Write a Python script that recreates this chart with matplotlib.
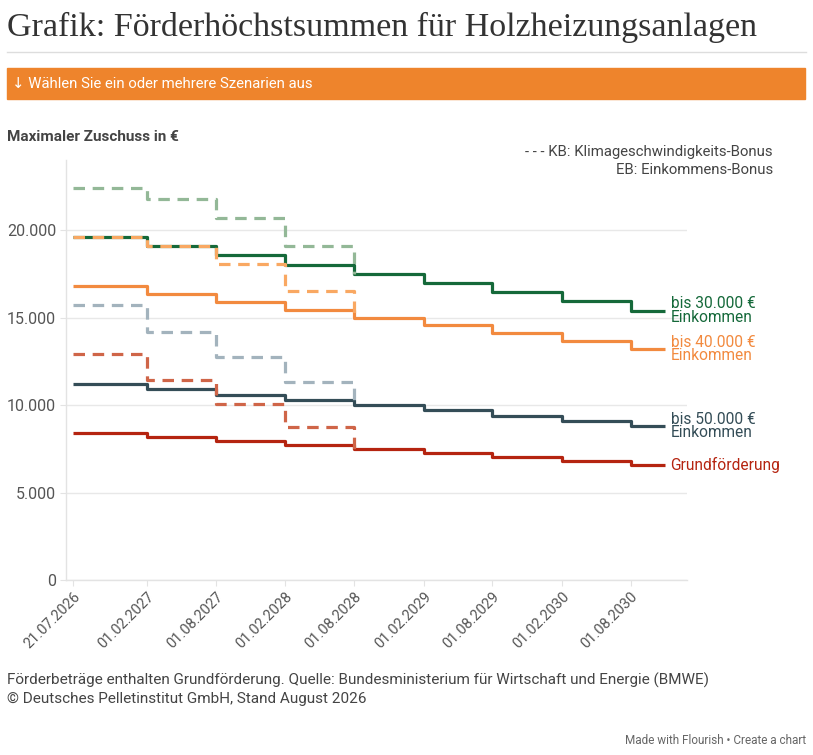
import matplotlib
matplotlib.use("Agg")
import matplotlib.pyplot as plt
import matplotlib.patheffects as pe
from matplotlib.patches import Rectangle
from matplotlib.lines import Line2D
import pandas as pd

# step dates (Förderstufen) and values
dates = ["2026-07-21", "2027-02-01", "2027-08-01", "2028-02-01", "2028-08-01",
         "2029-02-01", "2029-08-01", "2030-02-01", "2030-08-01"]
end_date = "2030-10-31"
tick_labels = ["21.07.2026", "01.02.2027", "01.08.2027", "01.02.2028", "01.08.2028",
               "01.02.2029", "01.08.2029", "01.02.2030", "01.08.2030"]

grund = [8400, 8175, 7950, 7725, 7500, 7275, 7050, 6825, 6600]
eb_50k = [11200, 10900, 10600, 10300, 10000, 9700, 9400, 9100, 8800]
eb_40k = [16800, 16350, 15900, 15450, 15000, 14550, 14100, 13650, 13200]
eb_30k = [19600, 19075, 18550, 18025, 17500, 16975, 16450, 15925, 15400]

# with Klimageschwindigkeits-Bonus (only until 01.08.2028)
kb_30k = [22400, 21800, 20700, 19100, 17500]
kb_40k = [19600, 19075, 18050, 16500, 15000]
kb_50k = [15700, 14170, 12720, 11330, 10000]
kb_grund = [12900, 11430, 10070, 8750, 7500]

solid_series = [
    ("bis 30.000 €\nEinkommen", eb_30k, "#15693a"),
    ("bis 40.000 €\nEinkommen", eb_40k, "#f28a3f"),
    ("bis 50.000 €\nEinkommen", eb_50k, "#344d57"),
    ("Grundförderung", grund, "#b52410"),
]
dashed_series = [
    (kb_30k, "#93b897"),
    (kb_50k, "#a3b3bd"),
    (kb_grund, "#cf6548"),
    (kb_40k, "#f9a862"),
]

W, H = 813, 755
SANS = ["Roboto", "DejaVu Sans"]
plt.rcParams["font.family"] = SANS


def fx(x):
    return x / W


def fy(y):
    return 1 - y / H


fig = plt.figure(figsize=(W / 100, H / 100), dpi=100)
ax = fig.add_axes([fx(66), fy(580), fx(687) - fx(66), fy(160) - fy(580)])

x_dates = pd.to_datetime(dates)
x_solid = list(x_dates) + [pd.to_datetime(end_date)]

halo = [pe.Stroke(linewidth=3.6, foreground="white", alpha=0.6), pe.Normal()]

for label, vals, color in solid_series:
    ys = vals + [vals[-1]]
    ax.plot(x_solid, ys, drawstyle="steps-post", color=color, lw=2.3,
            solid_capstyle="butt", path_effects=halo, zorder=3)
    ax.annotate(label, xy=(x_solid[-1], vals[-1]), xytext=(4, 0),
                textcoords="offset points", va="center", ha="left",
                color=color, fontsize=11.2, linespacing=0.9)

for vals, color in dashed_series:
    ax.plot(x_dates[:len(vals)], vals, drawstyle="steps-post", color=color,
            lw=2.3, linestyle=(0, (3.6, 2.4)), zorder=4)

ax.set_ylim(0, 24000)
ax.set_xlim(pd.to_datetime("2026-07-02"), pd.to_datetime("2030-12-28"))
ax.set_yticks([0, 5000, 10000, 15000, 20000])
ax.set_yticklabels([f"{v:,}".replace(",", ".") for v in [0, 5000, 10000, 15000, 20000]])
ax.set_xticks(x_dates)
ax.set_xticklabels(tick_labels, rotation=45, ha="right", rotation_mode="anchor")

ax.grid(axis="y", color="#e8e8e8", lw=1)
ax.set_axisbelow(True)
for s in ["top", "right"]:
    ax.spines[s].set_visible(False)
for s in ["left", "bottom"]:
    ax.spines[s].set_color("#e3e3e3")
    ax.spines[s].set_linewidth(1)
ax.tick_params(axis="y", length=4, color="#e3e3e3", labelsize=11.5,
               labelcolor="#555555", pad=3)
ax.tick_params(axis="x", length=4, color="#e3e3e3", labelsize=10.5,
               labelcolor="#555555", pad=3)

# header
fig.text(fx(7), fy(27), "Grafik: Förderhöchstsummen für Holzheizungsanlagen",
         family="Liberation Serif", fontsize=24.5, color="#333333", va="center")
fig.add_artist(Line2D([fx(7), fx(806)], [fy(52), fy(52)], color="#dddddd", lw=1,
                      transform=fig.transFigure))
fig.add_artist(Rectangle((fx(7), fy(99)), fx(805) - fx(7), fy(68) - fy(99),
                         color="#ee842c", transform=fig.transFigure))
fig.text(fx(12), fy(84), "↓ Wählen Sie ein oder mehrere Szenarien aus",
         fontsize=10.7, color="white", va="center")

fig.text(fx(7), fy(137), "Maximaler Zuschuss in €", fontsize=11,
         fontweight="bold", color="#444444", va="center")
fig.text(fx(773), fy(152), "- - - KB: Klimageschwindigkeits-Bonus",
         fontsize=10.7, color="#444444", va="center", ha="right")
fig.text(fx(773), fy(170), "EB: Einkommens-Bonus",
         fontsize=10.7, color="#444444", va="center", ha="right")

# footer
fig.text(fx(7), fy(680), "Förderbeträge enthalten Grundförderung. Quelle: Bundesministerium "
         "für Wirtschaft und Energie (BMWE)", fontsize=11,
         color="#444444", va="center")
fig.text(fx(7), fy(699), "© Deutsches Pelletinstitut GmbH, Stand August 2026",
         fontsize=11, color="#444444", va="center")
fig.text(fx(806), fy(741), "Made with Flourish • Create a chart",
         fontsize=8.5, color="#666666", va="center", ha="right")

fig.savefig("out.png", dpi=100)
